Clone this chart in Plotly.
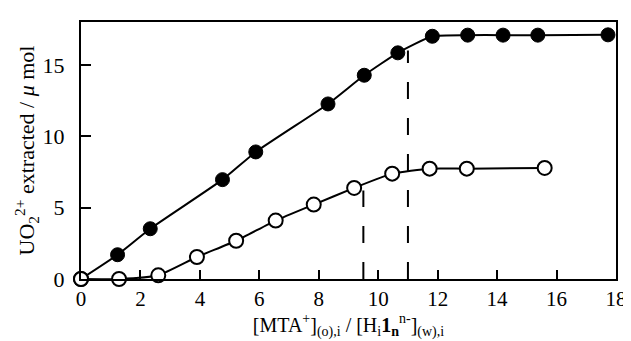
import plotly.graph_objects as go

# Filled circles series
filled_x = [0, 1.23, 2.33, 4.76, 5.88, 8.31, 9.53, 10.66, 11.82, 13.01, 14.2, 15.37, 17.73]
filled_y = [0, 1.70, 3.52, 6.96, 8.9, 12.26, 14.27, 15.84, 17.0, 17.08, 17.08, 17.08, 17.1]

# Open circles series
open_x = [0, 1.28, 2.6, 3.9, 5.22, 6.55, 7.83, 9.19, 10.47, 11.73, 12.98, 15.6]
open_y = [0, 0.0, 0.26, 1.54, 2.68, 4.09, 5.21, 6.38, 7.38, 7.73, 7.73, 7.78]

# Equivalence-point dashed markers
equiv_x = [9.5, 11.0]
equiv_top = [6.2, 16.0]

x_ticks = [0, 2, 4, 6, 8, 10, 12, 14, 16, 18]
y_ticks = [0, 5, 10, 15]

FONT = "Liberation Serif, Times New Roman, serif"

fig = go.Figure()

for ex, et in zip(equiv_x, equiv_top):
    fig.add_trace(go.Scatter(
        x=[ex, ex], y=[0, et], mode="lines",
        line=dict(color="black", width=2, dash="17px,19px"),
        showlegend=False, hoverinfo="skip", cliponaxis=False))

fig.add_trace(go.Scatter(
    x=open_x, y=open_y, mode="lines+markers",
    line=dict(color="black", width=2, shape="spline", smoothing=0.5),
    marker=dict(symbol="circle", size=14, color="white",
                line=dict(color="black", width=2)),
    showlegend=False, cliponaxis=False))

fig.add_trace(go.Scatter(
    x=filled_x, y=filled_y, mode="lines+markers",
    line=dict(color="black", width=2, shape="spline", smoothing=0.5),
    marker=dict(symbol="circle", size=14, color="black",
                line=dict(color="black", width=1)),
    showlegend=False, cliponaxis=False))

# origin open circle on top (both series start at origin)
fig.add_trace(go.Scatter(
    x=open_x[:1], y=open_y[:1], mode="markers",
    marker=dict(symbol="circle", size=14, color="white",
                line=dict(color="black", width=2)),
    showlegend=False, cliponaxis=False))

fig.update_layout(
    width=631, height=341,
    margin=dict(l=73, r=14, t=14, b=70),
    plot_bgcolor="white", paper_bgcolor="white",
    font=dict(family=FONT, color="black", size=20),
    xaxis=dict(
        range=[0, 18], tickvals=x_ticks, ticks="inside", ticklen=9,
        tickwidth=2, tickcolor="black", showgrid=False, zeroline=False,
        showline=True, linecolor="black", linewidth=2, mirror=True,
        tickfont=dict(family=FONT, size=21), ticklabelstandoff=0,
        title=dict(
            text="[MTA<sup>+</sup>]<sub>(o),i</sub> / [H<sub>i</sub><b>1</b><sub><b>n</b></sub><sup>n-</sup>]<sub>(w),i</sub>",
            font=dict(family=FONT, size=20), standoff=0),
    ),
    yaxis=dict(
        range=[0, 18], tickvals=y_ticks, ticks="inside", ticklen=10,
        tickwidth=2, tickcolor="black", showgrid=False, zeroline=False,
        showline=True, linecolor="black", linewidth=2, mirror=True,
        tickfont=dict(family=FONT, size=22), ticklabelstandoff=10,
        title=dict(
            text="UO<sub>2</sub><sup>2+</sup> extracted / <i>μ</i> mol",
            font=dict(family=FONT, size=22), standoff=2),
    ),
)

fig.write_html("out.html")
